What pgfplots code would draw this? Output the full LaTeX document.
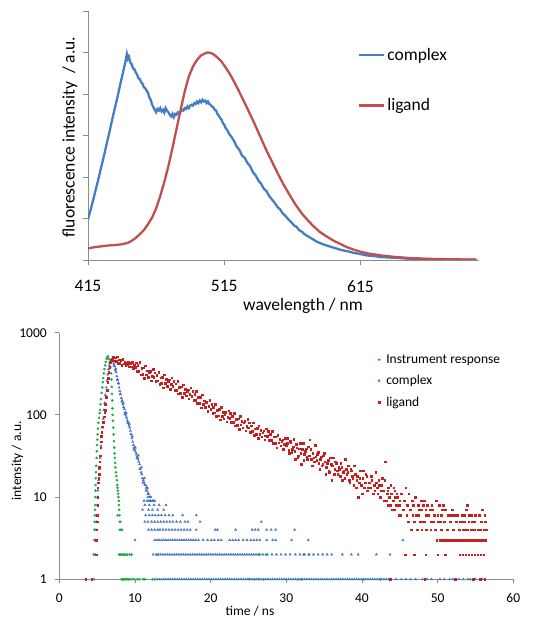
\documentclass[border=0pt]{standalone}
\usepackage{fontspec}
\setmainfont{Carlito}
\usepackage{pgfplots}
\pgfplotsset{compat=1.18}
\definecolor{axgray}{RGB}{140,140,140}
\definecolor{cblue}{RGB}{68,125,195}
\definecolor{cred}{RGB}{192,80,77}
\definecolor{sgreen}{RGB}{30,172,72}
\definecolor{sblue}{RGB}{70,114,196}
\definecolor{sred}{RGB}{196,32,32}
\begin{document}
\begin{tikzpicture}[x=1pt,y=1pt]
\path[use as bounding box] (0,0) rectangle (533,618);
% ---- emission spectra ----
\begin{axis}[
    at={(88pt,358pt)}, anchor=south west,
    scale only axis, width=391pt, height=249pt,
    xmin=415, xmax=702, ymin=0, ymax=6,
    axis lines=left,
    axis line style={-, draw=axgray, line width=0.8pt},
    tick style={draw=axgray, line width=0.8pt},
    tick align=outside, major tick length=5pt,
    xtick={415,515,615}, ytick={0,1,...,6}, yticklabels={},
    font=\fontsize{17.5}{21}\selectfont,
    /pgf/number format/assume math mode=true,
    xticklabel style={/pgf/number format/1000 sep={}, yshift=-12pt},
    xlabel={wavelength / nm},
    xlabel style={at={(axis description cs:0.55,0)}, anchor=center, yshift=-46pt},
    ylabel={fluorescence intensity\ \ / a.u.},
    ylabel style={at={(axis description cs:-0.046,0.494)}, anchor=center},
    legend style={at={(0.69,0.86)}, anchor=north west, draw=none, fill=none,
        inner sep=0pt, row sep=33pt, font=\fontsize{17.5}{21}\selectfont},
    legend cell align=left,
    legend image code/.code={\draw[#1] (0pt,0pt) -- (25pt,0pt);},
]
\addplot[cblue, line width=2.3pt] coordinates {
(415,0.98)(417,1.22)(419,1.47)(421,1.74)(423,2.00)(425,2.28)(427,2.55)(429,2.84)
(431,3.12)(433,3.42)(435,3.70)(437,3.98)(439,4.28)(441,4.56)(442.5,4.78)(443.5,4.96)
(444.2,4.85)(445,4.90)(446,4.76)(447,4.72)(448,4.62)(449,4.60)(450,4.52)(451,4.47)
(452,4.38)(453,4.36)(454,4.28)(455,4.25)(456,4.16)(457,4.14)(458,4.08)(459,4.03)
(460,3.92)(461,3.86)(462,3.75)(463,3.68)(464,3.62)(465,3.56)(466,3.64)(467,3.60)
(468,3.66)(469,3.58)(470,3.62)(471,3.55)(472,3.66)(473,3.60)(474,3.56)(475,3.50)
(476,3.46)(477,3.52)(478,3.44)(479,3.52)(480,3.50)(481,3.56)(482,3.54)(483,3.58)
(484,3.62)(485,3.60)(486,3.66)(487,3.64)(488,3.70)(489,3.66)(490,3.72)(491,3.74)
(492,3.72)(493,3.78)(494,3.76)(495,3.82)(496,3.78)(497,3.84)(498,3.80)(499,3.86)
(500,3.82)(501,3.84)(502,3.78)(503,3.82)(504,3.76)(505,3.74)(506,3.70)(507,3.68)
(508,3.62)(509,3.60)(510,3.52)(511,3.48)(512,3.42)(513,3.38)(514,3.30)(515,3.26)
(516,3.18)(517,3.14)(518,3.08)(519,3.02)(520,2.98)(522,2.88)(524,2.74)(526,2.66)
(528,2.52)(530,2.46)(532,2.34)(534,2.26)(536,2.12)(538,2.04)(540,1.92)(542,1.84)
(544,1.72)(546,1.66)(548,1.54)(550,1.46)(552,1.38)(554,1.28)(556,1.22)(558,1.12)
(560,1.06)(562,0.98)(564,0.92)(566,0.84)(568,0.80)(570,0.72)(572,0.68)(574,0.62)
(576,0.58)(578,0.54)(580,0.50)(583,0.44)(586,0.40)(589,0.36)(592,0.33)(595,0.30)
(598,0.27)(601,0.24)(604,0.22)(607,0.20)(610,0.17)(614,0.15)(618,0.12)(622,0.10)
(626,0.09)(630,0.07)(636,0.06)(642,0.05)(650,0.03)(660,0.02)(670,0.015)(685,0.01)(700,0.005)};
\addlegendentry{complex}
\addplot[cred, line width=2.3pt] coordinates {
(415,0.28)(420,0.31)(425,0.33)(430,0.35)(435,0.36)(440,0.38)(444,0.41)(447,0.46)
(450,0.53)(453,0.62)(456,0.72)(459,0.86)(462,1.02)(465,1.24)(468,1.54)(471,1.88)
(474,2.26)(477,2.70)(480,3.16)(483,3.62)(486,4.06)(489,4.42)(492,4.66)(495,4.82)
(498,4.93)(501,4.98)(503,5.00)(505,4.99)(507,4.96)(510,4.88)(513,4.78)(516,4.64)
(519,4.49)(522,4.31)(525,4.12)(528,3.92)(531,3.72)(534,3.51)(537,3.30)(540,3.08)
(543,2.86)(546,2.64)(549,2.44)(552,2.24)(555,2.04)(558,1.85)(561,1.68)(564,1.51)
(567,1.35)(570,1.21)(573,1.08)(576,0.97)(580,0.83)(585,0.68)(590,0.57)(595,0.47)
(600,0.39)(605,0.31)(610,0.25)(615,0.20)(620,0.16)(630,0.11)(640,0.075)(650,0.05)
(660,0.035)(670,0.024)(685,0.015)(700,0.010)};
\addlegendentry{ligand}
\end{axis}
% ---- decay curves ----
\begin{axis}[
    at={(59.3pt,38.7pt)}, anchor=south west,
    scale only axis, width=454pt, height=246.6pt,
    ymode=log, xmin=0, xmax=60, ymin=1, ymax=1000,
    axis lines=left, clip=false,
    axis line style={-, draw=axgray, line width=0.8pt},
    tick style={draw=axgray, line width=0.8pt},
    tick align=outside, major tick length=4pt, yminorticks=false,
    xtick={0,10,...,60}, ytick={1,10,100,1000}, yticklabels={1,10,100,1000},
    font=\fontsize{13.5}{16}\selectfont,
    /pgf/number format/assume math mode=true,
    xticklabel style={yshift=-7pt},
    yticklabel style={xshift=-5pt},
    xlabel={time / ns},
    xlabel style={at={(axis description cs:0.42,0)}, anchor=center, yshift=-32pt},
    ylabel={intensity / a.u.},
    ylabel style={at={(axis description cs:-0.092,0.48)}, anchor=center},
    legend style={at={(0.7016,0.92)}, anchor=north west, draw=none, fill=none,
        inner sep=0pt, row sep=6.5pt, font=\fontsize{13.5}{16}\selectfont,
        /tikz/every odd column/.append style={column sep=4pt}},
    legend cell align=left,
    legend image code/.code={\draw[mark repeat=2,mark phase=2,#1] plot coordinates {(0pt,0pt) (4pt,0pt) (8pt,0pt)};},
]
\addplot[only marks, mark=*, mark size=1.1pt, sgreen] coordinates {
(4.55,2)(4.6,3)(4.65,4)(4.68,5)(4.7,6)(4.72,7)(4.74,8)(4.76,10)(4.78,12)(4.8,14)
(4.82,17)(4.85,20)(4.88,24)(4.92,30)(4.95,36)(4.98,43)(5.02,50)(5.07,58)(5.12,68)
(5.18,80)(5.25,92)(5.32,105)(5.38,115)(5.45,135)(5.52,155)(5.6,185)(5.68,215)
(5.75,250)(5.8,280)(5.88,320)(5.95,360)(6.05,400)(6.15,440)(6.25,480)(6.35,505)
(6.45,515)(6.55,480)(6.65,440)(6.75,380)(6.85,320)(6.9,270)(6.93,220)(6.96,180)
(7.0,150)(7.03,120)(7.06,100)(7.1,85)(7.14,70)(7.18,58)(7.22,48)(7.26,40)(7.3,34)
(7.34,30)(7.38,26)(7.42,23)(7.48,20)(7.55,18)(7.62,16)(7.66,14)(7.7,13)(7.74,12)
(7.78,11)(7.82,10)(7.86,9)(7.88,8)(7.92,7)(7.95,6)(7.7,6)(8.0,5)(8.05,5)(8.0,4)
(8.1,4)(8.2,4)(8.3,4)
(7.9,2)(8.0,2)(8.15,2)(8.3,2)(8.45,2)(8.6,2)(8.8,2)(9.0,2)(9.3,2)(9.55,2)(12.9,2)
(10.0,3)
(8.2,1)(8.35,1)(8.5,1)(8.65,1)(8.8,1)(8.95,1)(9.1,1)(9.3,1)(9.6,1)(9.9,1)(10.3,1)
(10.6,1)(11.1,1)(11.3,1)(12.3,1)(12.6,1)(25.1,1)(25.8,1)(26.4,1)(27.0,1)(31.5,1)
(32.0,1)(40.2,1)(42.4,1)(52.3,1)(54.3,1)
(26.5,2)(27.3,2)(32.3,2)(33.0,2)};
\addlegendentry{Instrument response}
\addplot[only marks, mark=triangle*, mark size=1.3pt, sblue] coordinates {
(4.6,1)(4.75,2)(4.8,3)(4.85,4)(4.9,5)(4.95,6)(5.0,8)(5.05,10)(5.1,12)(5.2,16)
(5.3,22)(5.4,30)(5.5,42)(5.6,55)(5.7,70)(5.8,90)(5.9,115)(6.0,140)(6.1,175)
(6.2,215)(6.3,260)(6.4,310)(6.5,360)(6.6,400)(6.7,430)(6.8,455)(6.9,465)(7.0,460)
(7.1,445)(7.2,420)(7.3,390)(7.4,350)(7.5,330)(7.6,295)(7.7,270)(7.8,245)(7.9,215)
(8.0,195)(8.1,178)(8.2,160)(8.3,150)(8.4,135)(8.5,125)(8.6,118)(8.7,108)(8.8,98)
(8.9,92)(9.0,85)(9.1,80)(9.2,74)(9.3,70)(9.4,64)(9.5,58)(9.6,52)(9.7,47)(9.8,43)
(9.9,40)(10.0,37)(10.1,35)(10.2,33)(10.3,31)(10.4,29)(10.5,27)(10.6,25)(10.7,22)
(10.8,20)(10.9,19)(11.0,17)(11.1,16)(11.2,15)(11.3,14)(11.4,14)(11.5,13)(11.6,12)
(11.7,11)(11.8,11)(11.9,10)(12.0,10)(12.1,9)(12.3,9)
(7.25,400)(7.45,365)(7.65,265)(7.85,240)(8.05,180)(8.25,145)(8.45,140)(8.65,102)
(8.85,105)(9.05,80)(9.25,78)(9.45,58)(9.65,55)(9.85,38)(10.05,40)(10.25,30)
(10.45,32)(10.65,22)(10.85,23)(11.05,15)(11.25,17)(11.45,12)(11.65,13)(11.85,9)
(11.7,10)(12.1,10)(11.2,9)(11.6,9)(12.0,9)(12.4,9)(12.6,9)
(11.3,8)(11.9,8)(12.5,8)(13.2,8)(14.1,8)
(11.0,7)(11.8,7)(12.3,7)(13.0,7)(13.8,7)
(11.4,6)(11.9,6)(12.3,6)(12.7,6)(13.1,6)(13.5,6)(14.0,6)(14.5,6)(15.0,6)(16.3,6)(18.1,6)
(11.3,5)(11.7,5)(12.2,5)(12.6,5)(13.0,5)(13.4,5)(13.8,5)(14.2,5)(14.6,5)(15.0,5)
(15.5,5)(16.0,5)(16.6,5)(17.0,5)(18.6,5)(26.7,5)
(11.8,4)(12.2,4)(12.6,4)(13.0,4)(13.3,4)(13.7,4)(14.1,4)(14.5,4)(14.9,4)(15.3,4)
(15.7,4)(16.1,4)(16.5,4)(16.9,4)(17.3,4)(18.1,4)(20.6,4)(20.9,4)(23.3,4)(25.5,4)
(25.9,4)(26.3,4)(27.4,4)(28.0,4)(28.6,4)(31.1,4)
(12.6,3)(12.9,3)(13.2,3)(13.5,3)(13.8,3)(14.1,3)(14.4,3)(14.7,3)(15.0,3)(15.3,3)
(15.6,3)(15.9,3)(16.2,3)(16.5,3)(16.8,3)(17.1,3)(17.4,3)(17.7,3)(18.0,3)(18.4,3)
(19.0,3)(19.6,3)(20.1,3)(20.5,3)(21.0,3)(21.4,3)(22.5,3)(22.9,3)(23.3,3)(23.7,3)
(24.3,3)(24.8,3)(25.3,3)(25.7,3)(26.1,3)(26.5,3)(27.4,3)(28.2,3)(28.6,3)(30.7,3)
(32.9,3)(45.4,3)
(12.4,2)(12.8,2)(13.1,2)(13.4,2)(13.7,2)(14.0,2)(14.3,2)(14.6,2)(14.9,2)(15.2,2)
(15.5,2)(15.8,2)(16.1,2)(16.4,2)(16.7,2)(17.0,2)(17.3,2)(17.6,2)(17.9,2)(18.2,2)
(18.5,2)(18.8,2)(19.1,2)(19.4,2)(19.7,2)(20.0,2)(20.3,2)(20.6,2)(20.9,2)(21.2,2)
(21.5,2)(21.8,2)(22.1,2)(22.4,2)(22.7,2)(23.0,2)(23.3,2)(23.6,2)(23.9,2)(24.2,2)
(24.5,2)(24.8,2)(25.1,2)(25.4,2)(25.7,2)(26.0,2)(26.3,2)(26.9,2)(27.5,2)(28.1,2)
(28.7,2)(29.3,2)(29.9,2)(30.5,2)(31.2,2)(31.8,2)(32.4,2)(33.0,2)(33.6,2)(34.2,2)
(34.8,2)(35.4,2)(36.0,2)(37.4,2)(38.6,2)(39.5,2)(41.9,2)(43.7,2)
(12.9,1)(13.2,1)(13.5,1)(13.8,1)(14.1,1)(14.4,1)(14.7,1)(15.0,1)(15.3,1)(15.6,1)
(15.9,1)(16.2,1)(16.5,1)(16.8,1)(17.1,1)(17.4,1)(17.7,1)(18.0,1)(18.3,1)(18.6,1)
(18.9,1)(19.2,1)(19.5,1)(19.8,1)(20.1,1)(20.4,1)(20.7,1)(21.0,1)(21.3,1)(21.6,1)
(21.9,1)(22.2,1)(22.5,1)(22.8,1)(23.1,1)(23.4,1)(23.7,1)(24.0,1)(24.3,1)(24.6,1)
(24.9,1)(25.2,1)(25.5,1)(25.8,1)(26.1,1)(26.4,1)(26.7,1)(27.0,1)(27.3,1)(27.6,1)
(27.9,1)(28.2,1)(28.5,1)(28.8,1)(29.1,1)(29.4,1)(29.7,1)(30.0,1)(30.3,1)(30.6,1)
(30.9,1)(31.2,1)(31.5,1)(31.8,1)(32.1,1)(32.4,1)(32.7,1)(33.0,1)(33.3,1)(33.6,1)
(33.9,1)(34.2,1)(34.5,1)(34.8,1)(35.1,1)(35.4,1)(35.7,1)(36.0,1)(36.3,1)(36.6,1)
(36.9,1)(37.2,1)(37.5,1)(37.8,1)(38.1,1)(38.4,1)(38.7,1)(39.0,1)(39.3,1)(39.6,1)
(39.9,1)(40.2,1)(40.5,1)(40.8,1)(41.1,1)(41.4,1)(41.7,1)(42.0,1)(42.3,1)(42.6,1)
(42.9,1)(43.2,1)(43.5,1)(43.8,1)(44.5,1)(45.2,1)(45.8,1)(46.4,1)(47.1,1)(48.0,1)
(48.6,1)(49.2,1)(50.3,1)(50.9,1)(51.6,1)(52.0,1)(52.8,1)(53.4,1)(54.0,1)(55.0,1)(55.9,1)};
\addlegendentry{complex}
\addplot[only marks, mark=square*, mark size=0.8pt, sred] coordinates {
(4.85,2)(4.9,3)(4.95,4)(5.0,5)(5.02,6)(5.05,8)(5.08,10)(5.1,13)(5.15,15)(5.2,17)
(5.25,19)(5.3,23)(5.35,27)(5.4,32)(5.45,40)(5.5,47)(5.55,55)(5.6,62)(5.7,72)(5.8,82)
(5.9,95)(6.0,108)(6.05,115)(6.1,135)(6.2,165)(6.3,200)(6.4,250)(6.47,280)(6.55,330)
(6.65,380)(6.75,430)(6.85,460)(6.95,480)
(7.0,480)(7.125,513)(7.25,454)(7.375,494)(7.5,449)(7.625,508)(7.75,428)(7.875,467)
(8.0,422)(8.125,462)(8.25,400)(8.375,477)(8.5,419)(8.625,442)(8.75,404)(8.875,429)
(9.0,410)(9.125,439)(9.25,387)(9.375,422)(9.5,385)(9.625,436)(9.75,367)(9.875,401)
(10.0,380)(10.125,433)(10.25,338)(10.375,403)(10.5,342)(10.625,436)(10.75,310)(10.875,371)
(11.0,313)(11.125,374)(11.25,279)(11.375,398)(11.5,310)(11.625,346)(11.75,288)(11.875,326)
(12.0,339)(12.125,261)(12.25,297)(12.375,357)(12.5,287)(12.625,327)(12.75,255)(12.875,304)
(13.0,261)(13.125,333)(13.25,237)(13.375,283)(13.5,241)(13.625,288)(13.75,215)(13.875,307)
(14.0,243)(14.125,270)(14.25,225)(14.375,255)(14.5,268)(14.625,206)(14.75,235)(14.875,282)
(15.0,225)(15.125,257)(15.25,200)(15.375,239)(15.5,201)(15.625,257)(15.75,182)(15.875,218)
(16.0,184)(16.125,220)(16.25,164)(16.375,234)(16.5,184)(16.625,205)(16.75,171)(16.875,194)
(17.0,203)(17.125,157)(17.25,178)(17.375,214)(17.5,170)(17.625,194)(17.75,151)(17.875,180)
(18.0,152)(18.125,194)(18.25,138)(18.375,165)(18.5,138)(18.625,165)(18.75,123)(18.875,176)
(19.0,134)(19.125,149)(19.25,124)(19.375,141)(19.5,145)(19.625,111)(19.75,127)(19.875,152)
(20.0,118)(20.125,135)(20.25,105)(20.375,125)(20.5,106)(20.625,136)(20.75,96)(20.875,115)
(21.0,98)(21.125,117)(21.25,87)(21.375,124)(21.5,97)(21.625,108)(21.75,90)(21.875,102)
(22.0,107)(22.125,83)(22.25,94)(22.375,113)(22.5,91)(22.625,104)(22.75,81)(22.875,96)
(23.0,82)(23.125,104)(23.25,74)(23.375,89)(23.5,75)(23.625,90)(23.75,67)(23.875,96)
(24.0,76)(24.125,84)(24.25,70)(24.375,80)(24.5,84)(24.625,64)(24.75,73)(24.875,88)
(25.0,70)(25.125,80)(25.25,62)(25.375,74)(25.5,63)(25.625,80)(25.75,57)(25.875,68)
(26.0,58)(26.125,69)(26.25,52)(26.375,74)(26.5,58)(26.625,65)(26.75,54)(26.875,61)
(27.0,64)(27.125,50)(27.25,56)(27.375,68)(27.5,55)(27.625,63)(27.75,49)(27.875,58)
(28.0,49)(28.125,63)(28.25,45)(28.375,54)(28.5,45)(28.625,54)(28.75,40)(28.875,57)
(29.0,46)(29.125,51)(29.25,42)(29.375,48)(29.5,50)(29.625,38)(29.75,44)(29.875,52)
(30.0,42)(30.2,52)(30.4,34)(30.6,46)(30.8,38)(31.0,51)(31.2,29)(31.4,40)(31.6,32)(31.8,45)
(32.0,25)(32.2,45)(32.4,33)(32.6,39)(32.8,29)(33.0,32)(33.2,38)(33.4,24)(33.6,30)(33.8,43)
(34.0,28)(34.2,35)(34.4,22)(34.6,31)(34.8,25)(35.0,34)(35.2,19)(35.4,26)(35.6,21)(35.8,30)
(36.0,16)(36.2,30)(36.4,22)(36.6,26)(36.8,19)(37.0,22)(37.2,26)(37.4,16)(37.6,21)(37.8,29)
(38.0,19)(38.2,24)(38.4,15)(38.6,21)(38.8,17)(39.0,24)(39.2,13)(39.4,18)(39.6,15)(39.8,21)
(40.0,11)(40.2,21)(40.4,15)(40.6,18)(40.8,13)(41.0,15)(41.2,18)(41.4,11)(41.6,14)(41.8,20)
(42.0,13)(42.2,16)(42.4,10)(42.6,14)(42.8,12)(43.0,16)(43.2,9)(43.4,12)(43.6,10)(43.8,14)
(44.0,7)(44.2,13)(44.4,10)(44.6,11)(44.8,8)(45.0,9)(45.2,11)(45.4,7)(45.6,9)(45.8,13)
(46.0,8)(46.2,11)(46.4,7)(46.6,9)(46.8,8)(47.0,10)(47.2,6)(47.4,8)(47.6,7)(47.8,9)
(48.0,5)(48.2,9)(48.4,7)(48.6,8)(48.8,6)(49.0,7)(49.2,8)(49.4,5)(49.6,6)(49.8,9)
(50.0,6)(50.2,8)(50.4,5)(50.6,7)(50.8,5)(51.0,7)(51.2,4)(51.4,6)(51.6,5)(51.8,6)
(52.0,4)(52.2,6)(52.4,5)(52.6,6)(52.8,4)(53.0,5)(53.2,6)(53.4,4)(53.6,5)(53.8,7)
(54.0,4)(54.2,6)(54.4,4)(54.6,5)(54.8,4)(55.0,6)(55.2,3)(55.4,4)(55.6,4)(55.8,5)
(56.0,3)(56.2,5)(56.4,4)
(30.1,45)(30.3,37)(30.5,48)(30.7,35)(30.9,41)(31.1,36)(31.3,44)(31.5,30)(31.7,39)(31.9,34)
(32.1,38)(32.3,28)(32.5,36)(32.7,31)(32.9,41)(33.1,50)(33.3,29)(33.5,34)(33.7,27)(33.9,31)
(34.1,33)(34.3,26)(34.5,29)(34.7,24)(34.9,32)(35.1,27)(35.3,23)(35.5,28)(35.7,20)(35.9,25)
(36.1,24)(36.3,19)(36.5,27)(36.7,21)(36.9,23)(37.1,18)(37.3,23)(37.5,20)(37.7,17)(37.9,22)
(38.1,20)(38.3,16)(38.5,22)(38.7,18)(38.9,14)(39.1,19)(39.3,16)(39.5,10)(39.7,17)(39.9,14)
(40.1,17)(40.3,13)(40.5,19)(40.7,12)(40.9,15)(41.1,13)(41.3,16)(41.5,11)(41.7,12)(41.9,15)
(42.1,11)(42.3,14)(42.5,12)(42.7,17)(42.9,9)(43.1,27)(43.3,11)(43.5,13)(43.7,8)(43.9,11)
(44.1,9)(44.3,12)(44.5,8)(44.7,10)(44.9,6)
(43.5,8)(44.9,8)(46.7,8)(48.1,8)(50.7,8)(53.9,8)
(44.3,7)(45.5,7)(46.3,7)(47.9,7)(49.3,7)(51.9,7)(53.7,7)(55.9,7)
(45.1,6)(45.9,6)(46.7,6)(47.5,6)(48.5,6)(49.5,6)(50.5,6)(51.5,6)(52.5,6)(53.5,6)(54.5,6)(55.5,6)(56.2,6)
(46.1,5)(46.9,5)(47.7,5)(48.3,5)(49.1,5)(50.1,5)(50.9,5)(51.7,5)(52.5,5)(53.3,5)(54.1,5)(54.9,5)(55.7,5)(56.3,5)
(46.5,4)(47.3,4)(47.9,4)(48.5,4)(49.1,4)(49.7,4)(50.5,4)(51.3,4)(52.1,4)(52.9,4)(53.7,4)(54.5,4)(55.3,4)(56.1,4)
(49.9,3)(50.3,3)(50.7,3)(51.1,3)(51.5,3)(51.9,3)(52.3,3)(52.7,3)(53.1,3)(53.5,3)(53.9,3)(54.3,3)(54.7,3)(55.1,3)(55.5,3)(55.9,3)(56.3,3)
(45.7,2)(46.9,2)(48.4,2)(50.0,2)(51.0,2)(52.9,2)(53.3,2)(53.7,2)(54.1,2)(54.5,2)(54.9,2)(55.3,2)(55.7,2)(56.1,2)
(3.5,1)(4.3,1)(43.7,1)(48.3,1)(52.3,1)(54.7,1)(55.6,1)(56.2,1)};
\addlegendentry{ligand}
\end{axis}
\end{tikzpicture}
\end{document}
